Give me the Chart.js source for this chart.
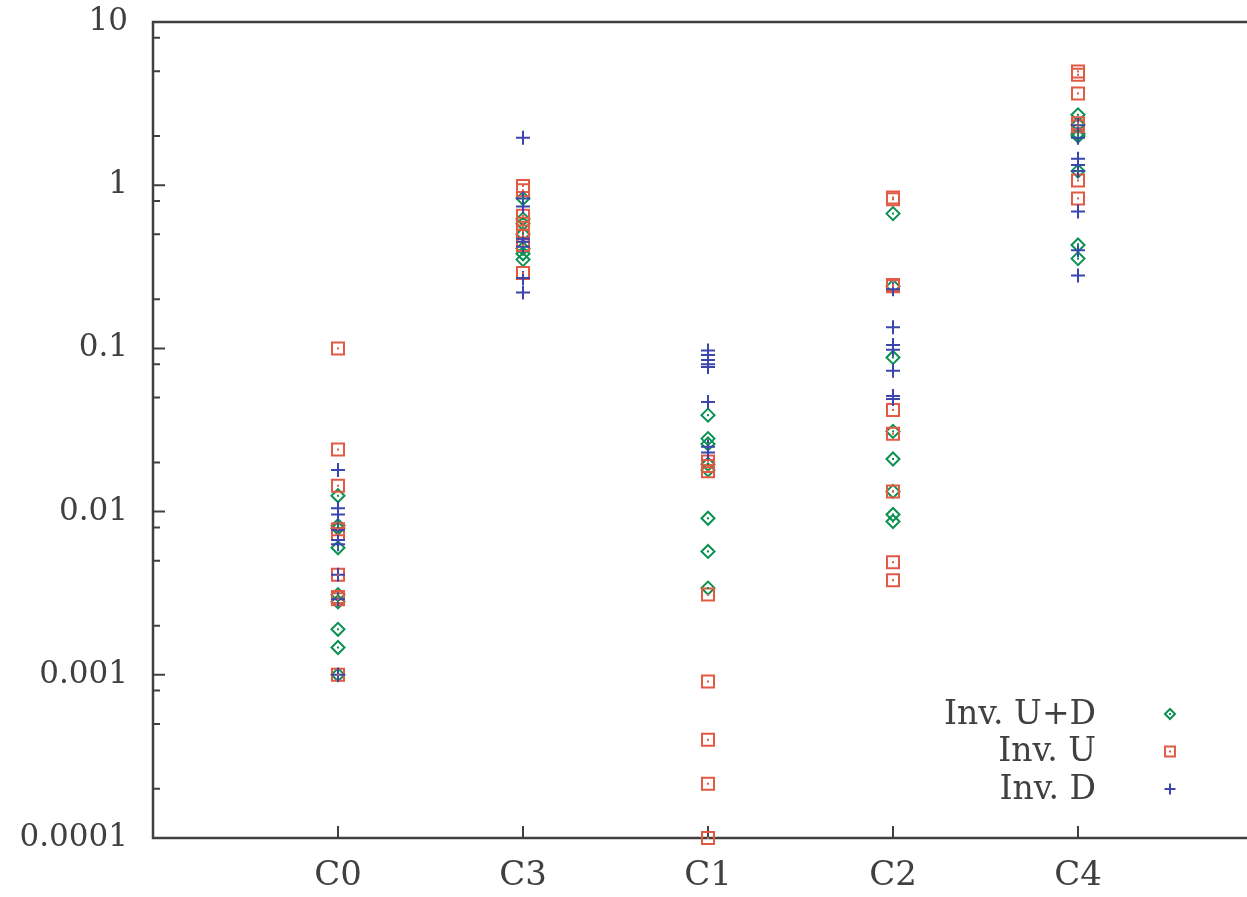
<!DOCTYPE html>
<html>
<head>
<meta charset="utf-8">
<script src="https://cdn.jsdelivr.net/npm/chart.js@4/dist/chart.umd.min.js"></script>
<style>
	html, body { margin: 0; padding: 0; background: #fff; overflow: hidden; }
	#wrap { width: 1280px; height: 897px; }
</style>
</head>
<body>
<div id="wrap"><canvas id="myChart" width="1280" height="897"></canvas></div>
<script>
/* Data, one inner list per category. */
const categories = ['C0', 'C3', 'C1', 'C2', 'C4'];
const yTicks = [0.0001, 0.001, 0.01, 0.1, 1, 10];
const seriesLabels = ['Inv. U+D', 'Inv. U', 'Inv. D'];

const invUD = [
	[0.0125, 0.0082, 0.0079, 0.006, 0.0031, 0.0028, 0.0019, 0.00147, 0.001],
	[0.83, 0.62, 0.58, 0.5, 0.41, 0.38, 0.35],
	[0.039, 0.028, 0.026, 0.0195, 0.018, 0.0091, 0.0057, 0.0034],
	[0.67, 0.24, 0.088, 0.031, 0.021, 0.0133, 0.0096, 0.0087],
	[2.7, 2.35, 2.07, 2.0, 1.22, 0.43, 0.355],
];
const invU = [
	[0.1, 0.024, 0.0144, 0.0078, 0.0073, 0.0041, 0.003, 0.0029, 0.001],
	[0.99, 0.93, 0.65, 0.58, 0.52, 0.49, 0.43, 0.29],
	[0.0203, 0.019, 0.0177, 0.0031, 0.00091, 0.0004, 0.000215, 0.0001],
	[0.84, 0.82, 0.245, 0.24, 0.042, 0.03, 0.0133, 0.0049, 0.0038],
	[4.98, 4.75, 3.65, 2.4, 2.3, 1.07, 0.83],
];
const invD = [
	[0.018, 0.0105, 0.0096, 0.0077, 0.0067, 0.0063, 0.0041, 0.0029, 0.001],
	[1.95, 0.83, 0.74, 0.47, 0.45, 0.42, 0.27, 0.22],
	[0.097, 0.091, 0.085, 0.08, 0.077, 0.047, 0.025, 0.023],
	[0.23, 0.135, 0.105, 0.098, 0.073, 0.051, 0.049],
	[2.33, 1.95, 1.45, 1.33, 1.22, 0.69, 0.4, 0.28],
];

function toPoints(groups) {
	const pts = [];
	groups.forEach((vals, i) => vals.forEach((v) => pts.push({ x: i + 1, y: v })));
	return pts;
}

// Colours and look
const green = '#0a9150';
const red = '#e25a44';
const blue = '#3a45ad';
const axisColor = '#404040';
const fontFamily = "'DejaVu Serif', serif";

// Frame, inward ticks, centre dots and the legend
const decorPlugin = {
	id: 'decor',
	beforeDatasetsDraw(chart) {
		const { ctx, chartArea: a, scales } = chart;
		ctx.save();
		ctx.strokeStyle = axisColor;
		ctx.lineWidth = 2.5;
		ctx.strokeRect(a.left, a.top, a.right - a.left, a.bottom - a.top);
		ctx.lineWidth = 2;
		ctx.beginPath();
		// major y ticks
		yTicks.forEach((v) => {
			const y = scales.y.getPixelForValue(v);
			ctx.moveTo(a.left, y);
			ctx.lineTo(a.left + 12, y);
		});
		// minor y ticks at 2, 5, 8
		for (let d = 0.0001; d < 10; d *= 10) {
			[2, 5, 8].forEach((m) => {
				const y = scales.y.getPixelForValue(d * m);
				ctx.moveTo(a.left, y);
				ctx.lineTo(a.left + 7, y);
			});
		}
		// x ticks
		categories.forEach((c, i) => {
			const x = scales.x.getPixelForValue(i + 1);
			ctx.moveTo(x, a.bottom);
			ctx.lineTo(x, a.bottom - 12);
		});
		ctx.stroke();
		ctx.restore();
	},
	afterDatasetsDraw(chart) {
		const { ctx, chartArea: a } = chart;
		ctx.save();
		// little dots inside squares and diamonds
		chart.data.datasets.forEach((ds, i) => {
			if (ds.pointStyle === 'cross') return;
			ctx.fillStyle = ds.borderColor;
			chart.getDatasetMeta(i).data.forEach((p) => {
				ctx.fillRect(p.x - 1, p.y - 1, 2, 2);
			});
		});
		// legend: text right-aligned, marker to the right
		ctx.font = '33px ' + fontFamily;
		ctx.textAlign = 'right';
		ctx.textBaseline = 'middle';
		chart.data.datasets.forEach((ds, i) => {
			const y = a.bottom - 124 + i * 37.5;
			ctx.fillStyle = axisColor;
			ctx.fillText(ds.label, 1096, y + 1);
			ctx.strokeStyle = ds.borderColor;
			ctx.fillStyle = 'rgba(0,0,0,0)';
			ctx.lineWidth = 2;
			Chart.helpers.drawPoint(ctx, { pointStyle: ds.pointStyle, radius: ds.pointRadius - 1.5, borderWidth: 2, rotation: 0 }, 1170, y);
			ctx.fillStyle = ds.borderColor;
			if (ds.pointStyle !== 'cross') ctx.fillRect(1169, y - 1, 2, 2);
		});
		ctx.restore();
	},
};

const chartContainer = document.getElementById('myChart').getContext('2d');
Chart.defaults.font.family = fontFamily;
Chart.defaults.color = axisColor;

const chartConfig = {
	type: 'scatter',
	data: {
		datasets: [
			{ label: seriesLabels[0], data: toPoints(invUD), pointStyle: 'rectRot', pointRadius: 6.5, borderColor: green, backgroundColor: 'transparent', borderWidth: 2, order: 3 },
			{ label: seriesLabels[1], data: toPoints(invU), pointStyle: 'rect', pointRadius: 8.5, borderColor: red, backgroundColor: 'transparent', borderWidth: 2, order: 2 },
			{ label: seriesLabels[2], data: toPoints(invD), pointStyle: 'cross', pointRadius: 7, borderColor: blue, backgroundColor: blue, borderWidth: 2, order: 1 },
		],
	},
	options: {
		responsive: false,
		animation: false,
		clip: false,
		layout: { padding: { top: 22, left: 0, right: 17, bottom: 0 } },
		scales: {
			x: {
				type: 'linear',
				min: 0,
				max: 6,
				border: { display: false },
				grid: { display: false, drawTicks: false },
				afterBuildTicks: (scale) => {
					scale.ticks = categories.map((c, i) => ({ value: i + 1 }));
				},
				afterFit: (scale) => {
					scale.height = 59;
					scale.paddingLeft = 0;
					scale.paddingRight = 0;
				},
				ticks: {
					padding: 18,
					maxRotation: 0,
					autoSkip: false,
					font: { size: 34 },
					color: axisColor,
					callback: (v) => categories[v - 1],
				},
			},
			y: {
				type: 'logarithmic',
				min: 0.0001,
				max: 10,
				border: { display: false },
				grid: { display: false, drawTicks: false },
				afterBuildTicks: (scale) => {
					scale.ticks = yTicks.map((v) => ({ value: v }));
				},
				afterFit: (scale) => {
					scale.width = 153;
					scale.paddingTop = 0;
					scale.paddingBottom = 0;
				},
				ticks: {
					padding: 25,
					autoSkip: false,
					font: { size: 31 },
					color: axisColor,
					callback: (v) => String(v),
				},
			},
		},
		plugins: {
			legend: { display: false },
			tooltip: { enabled: false },
		},
	},
	plugins: [decorPlugin],
};

const myChart = new Chart(chartContainer, chartConfig);
</script>
</body>
</html>
